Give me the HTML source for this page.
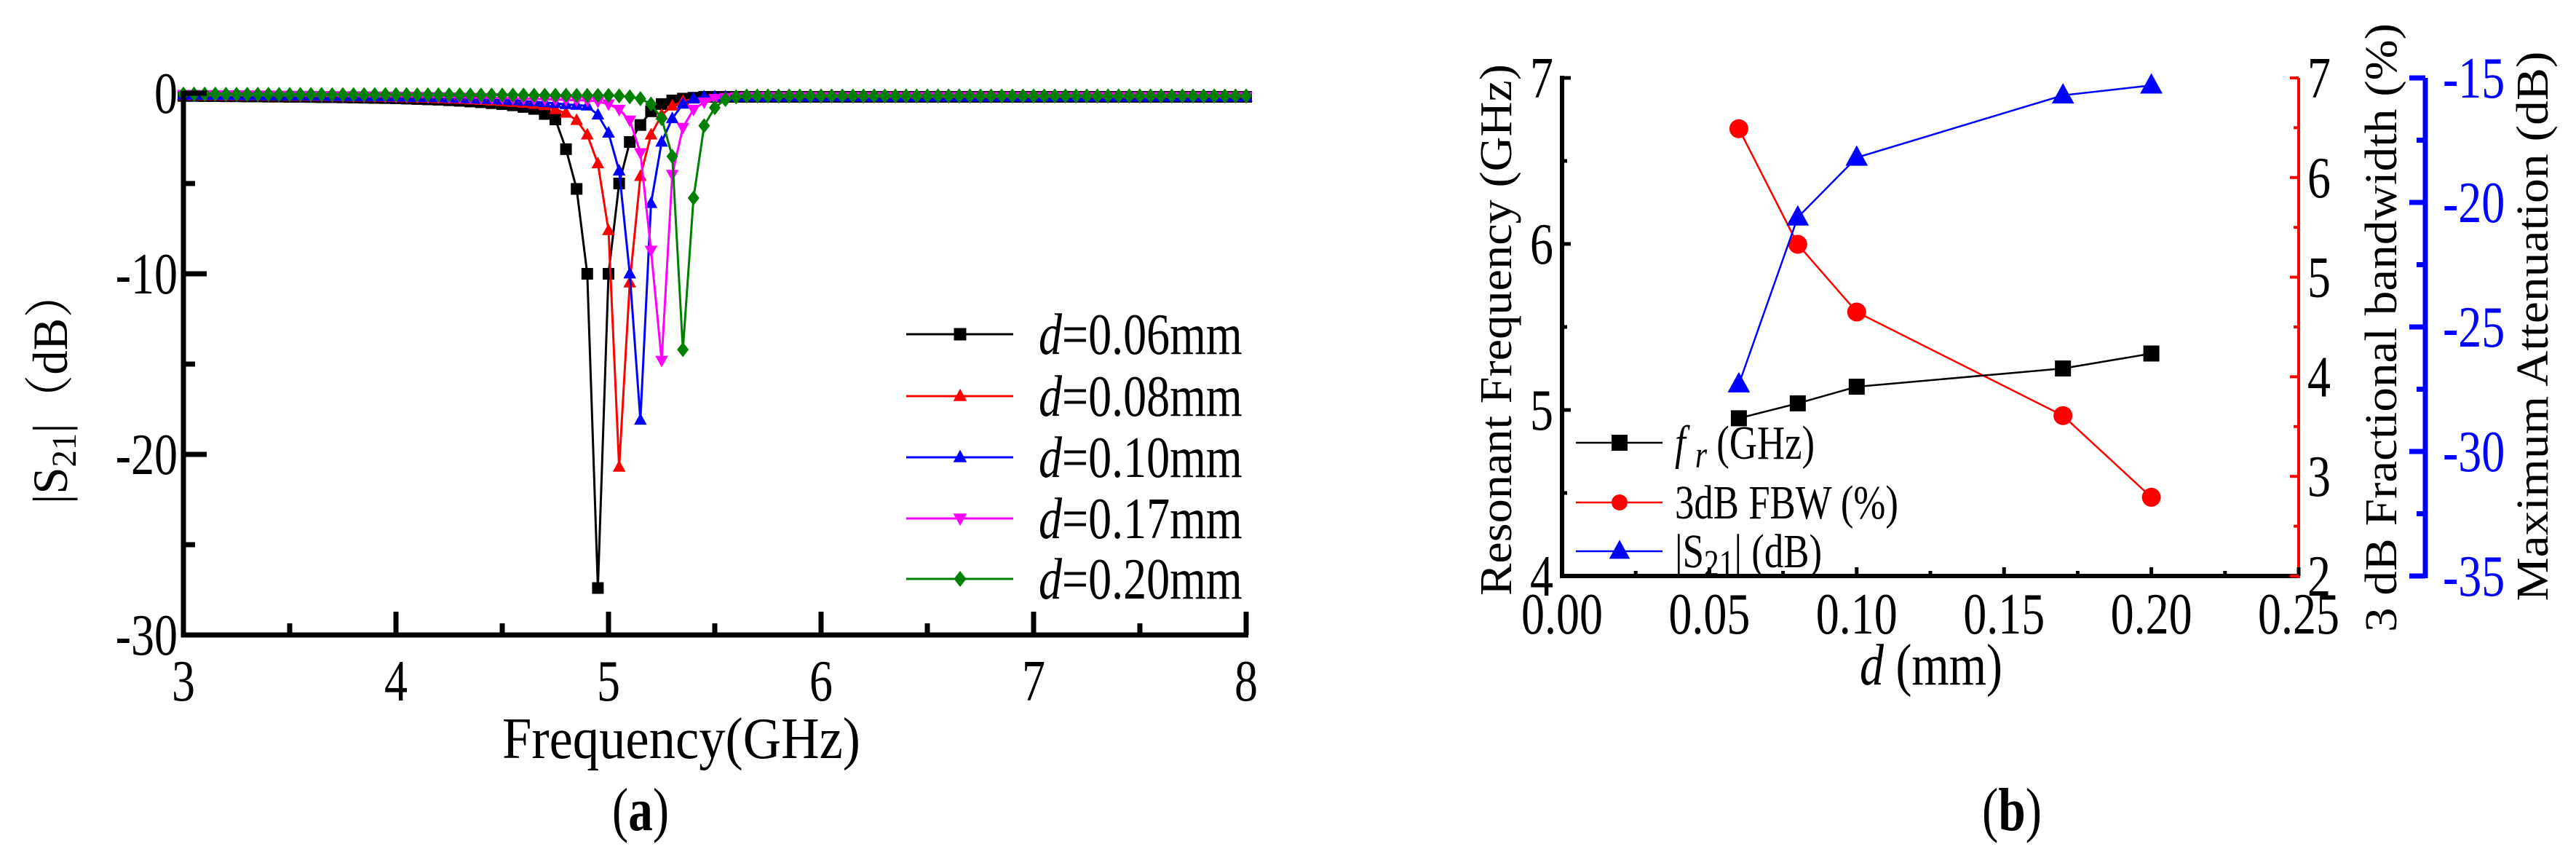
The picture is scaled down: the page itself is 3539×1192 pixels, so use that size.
<!DOCTYPE html>
<html><head><meta charset="utf-8"><style>
html,body{margin:0;padding:0;background:#fff;}
svg{display:block;font-family:"Liberation Serif","Noto Serif CJK SC",serif;}
</style></head><body>
<svg id="fig" width="3539" height="1192" viewBox="0 0 3539 1192" xmlns="http://www.w3.org/2000/svg"></svg>
<script>
// ---------- Chart (a) data ----------
const freqStart = 3, freqStep = 0.05, freqCount = 101;
const aLabels = ["d=0.06mm","d=0.08mm","d=0.10mm","d=0.17mm","d=0.20mm"];
const aXTicks = [3,4,5,6,7,8];
const aYTicks = [0,-10,-20,-30];
const s006 = [-0.15,-0.15,-0.16,-0.16,-0.17,-0.17,-0.18,-0.18,-0.19,-0.19,-0.2,-0.2,-0.21,-0.22,-0.22,-0.23,-0.24,-0.25,-0.26,-0.27,
 -0.28,-0.3,-0.32,-0.34,-0.36,-0.39,-0.42,-0.46,-0.5,-0.55,-0.6,-0.67,-0.76,-0.87,-1.15,-1.45,-3.1,-5.3,-10.0,-27.4,-10.0,-5.0,-2.7,-1.76,-1.0,-0.6,-0.4,-0.3,-0.25,-0.2,
 -0.2,-0.2,-0.2,-0.2,-0.2,-0.2,-0.2,-0.2,-0.2,-0.2,-0.2,-0.2,-0.2,-0.2,-0.2,-0.2,-0.2,-0.2,-0.2,-0.2,-0.2,-0.2,-0.2,-0.2,-0.2,-0.2,-0.2,-0.2,-0.2,-0.2,-0.2,-0.2,-0.2,-0.2,-0.2,-0.2,-0.2,-0.2,-0.2,-0.2,-0.2,-0.2,-0.2,-0.2,-0.2,-0.2,-0.2,-0.2,-0.2,-0.2,-0.2];
const s008 = [-0.12,-0.12,-0.13,-0.13,-0.14,-0.14,-0.15,-0.15,-0.16,-0.16,-0.17,-0.17,-0.18,-0.18,-0.19,-0.19,-0.2,-0.2,-0.21,-0.22,
 -0.23,-0.24,-0.25,-0.27,-0.29,-0.31,-0.33,-0.36,-0.39,-0.42,-0.46,-0.5,-0.55,-0.61,-0.68,-0.9,-1.1,-1.5,-2.3,-3.9,-7.6,-20.7,-10.5,-4.6,-2.3,-1.2,-0.7,-0.45,-0.3,-0.25,
 -0.22,-0.2,-0.2,-0.2,-0.2,-0.2,-0.2,-0.2,-0.2,-0.2,-0.2,-0.2,-0.2,-0.2,-0.2,-0.2,-0.2,-0.2,-0.2,-0.2,-0.2,-0.2,-0.2,-0.2,-0.2,-0.2,-0.2,-0.2,-0.2,-0.2,-0.2,-0.2,-0.2,-0.2,-0.2,-0.2,-0.2,-0.2,-0.2,-0.2,-0.2,-0.2,-0.2,-0.2,-0.2,-0.2,-0.2,-0.2,-0.2,-0.2,-0.2];
const s010 = [-0.1,-0.1,-0.11,-0.11,-0.12,-0.12,-0.13,-0.13,-0.14,-0.14,-0.15,-0.15,-0.16,-0.16,-0.17,-0.17,-0.18,-0.18,-0.19,-0.19,
 -0.2,-0.21,-0.22,-0.23,-0.24,-0.26,-0.28,-0.3,-0.32,-0.34,-0.37,-0.4,-0.43,-0.47,-0.51,-0.56,-0.62,-0.66,-0.7,-1.2,-2.2,-4.3,-10.0,-18.1,-6.1,-2.7,-1.4,-0.6,-0.3,-0.2,
 -0.2,-0.2,-0.2,-0.2,-0.2,-0.2,-0.2,-0.2,-0.2,-0.2,-0.2,-0.2,-0.2,-0.2,-0.2,-0.2,-0.2,-0.2,-0.2,-0.2,-0.2,-0.2,-0.2,-0.2,-0.2,-0.2,-0.2,-0.2,-0.2,-0.2,-0.2,-0.2,-0.2,-0.2,-0.2,-0.2,-0.2,-0.2,-0.2,-0.2,-0.2,-0.2,-0.2,-0.2,-0.2,-0.2,-0.2,-0.2,-0.2,-0.2,-0.2];
const s017 = [-0.08,-0.08,-0.09,-0.09,-0.1,-0.1,-0.1,-0.11,-0.11,-0.12,-0.12,-0.13,-0.13,-0.14,-0.14,-0.15,-0.15,-0.16,-0.16,-0.17,
 -0.17,-0.18,-0.19,-0.2,-0.21,-0.22,-0.23,-0.24,-0.25,-0.26,-0.27,-0.28,-0.3,-0.31,-0.33,-0.35,-0.37,-0.39,-0.4,-0.45,-0.6,-0.9,-1.5,-3.3,-8.7,-14.8,-4.5,-1.9,-0.9,-0.5,
 -0.3,-0.25,-0.22,-0.2,-0.2,-0.2,-0.2,-0.2,-0.2,-0.2,-0.2,-0.2,-0.2,-0.2,-0.2,-0.2,-0.2,-0.2,-0.2,-0.2,-0.2,-0.2,-0.2,-0.2,-0.2,-0.2,-0.2,-0.2,-0.2,-0.2,-0.2,-0.2,-0.2,-0.2,-0.2,-0.2,-0.2,-0.2,-0.2,-0.2,-0.2,-0.2,-0.2,-0.2,-0.2,-0.2,-0.2,-0.2,-0.2,-0.2,-0.2];
const s020 = [-0.05,-0.05,-0.05,-0.05,-0.06,-0.06,-0.06,-0.06,-0.06,-0.07,-0.07,-0.07,-0.07,-0.07,-0.08,-0.08,-0.08,-0.08,-0.08,-0.08,
 -0.08,-0.08,-0.09,-0.09,-0.09,-0.09,-0.09,-0.1,-0.1,-0.1,-0.1,-0.1,-0.1,-0.11,-0.11,-0.11,-0.11,-0.12,-0.12,-0.12,-0.12,-0.15,-0.2,-0.3,-0.6,-1.4,-3.5,-14.2,-5.8,-1.8,
 -0.8,-0.35,-0.2,-0.15,-0.15,-0.15,-0.15,-0.15,-0.15,-0.15,-0.15,-0.15,-0.15,-0.15,-0.15,-0.15,-0.15,-0.15,-0.15,-0.15,-0.15,-0.15,-0.15,-0.15,-0.15,-0.15,-0.15,-0.15,-0.15,-0.15,-0.15,-0.15,-0.15,-0.15,-0.15,-0.15,-0.15,-0.15,-0.15,-0.15,-0.15,-0.15,-0.15,-0.15,-0.15,-0.15,-0.15,-0.15,-0.15,-0.15,-0.15];

// ---------- Chart (b) data ----------
const dVals = [0.06,0.08,0.10,0.17,0.20];
const frVals = [4.95,5.04,5.14,5.25,5.34];
const fbwVals = [6.49,5.33,4.65,3.61,2.79];
const s21Vals = [-27.3,-20.6,-18.2,-15.7,-15.3];
const bXTicks = ["0.00","0.05","0.10","0.15","0.20","0.25"];
const bLeftTicks = [4,5,6,7];
const bRedTicks = [2,3,4,5,6,7];
const bBlueTicks = [-35,-30,-25,-20,-15];

const NS = "http://www.w3.org/2000/svg";
const svg = document.getElementById("fig");
function mk(tag, attrs, parent){
  const e = document.createElementNS(NS, tag);
  for (const k in attrs) e.setAttribute(k, attrs[k]);
  (parent||svg).appendChild(e);
  return e;
}
function txt(x, y, str, size, anchor, rot, fill, italic){
  const g = mk("g", {transform:`translate(${x},${y}) rotate(${rot||0}) scale(0.8,1)`});
  const t = mk("text", {x:0, y:0, "font-size":size, "text-anchor":anchor||"start", fill:fill||"#000"}, g);
  if (italic) t.setAttribute("font-style","italic");
  t.textContent = str;
  return g;
}
// title with fixed length; rotated titles have glyph height compressed
function title(x, y, html, size, len, rot, sy){
  const g = mk("g", {transform:`translate(${x},${y}) rotate(${rot||0}) scale(1,${sy||1})`});
  const t = mk("text", {x:-len/2, y:0, "font-size":size, textLength:len, lengthAdjust:"spacingAndGlyphs"}, g);
  t.innerHTML = html;
  return g;
}
function marker(type, cx, cy, s, color, parent){
  let e;
  if (type==="square") e = mk("rect",{x:cx-s/2,y:cy-s/2,width:s,height:s,fill:color},parent);
  else if (type==="circle") e = mk("circle",{cx:cx,cy:cy,r:s/2,fill:color},parent);
  else if (type==="up") e = mk("polygon",{points:`${cx},${cy-s*0.6} ${cx-s*0.55},${cy+s*0.4} ${cx+s*0.55},${cy+s*0.4}`,fill:color},parent);
  else if (type==="down") e = mk("polygon",{points:`${cx},${cy+s*0.6} ${cx-s*0.55},${cy-s*0.4} ${cx+s*0.55},${cy-s*0.4}`,fill:color},parent);
  else e = mk("polygon",{points:`${cx},${cy-s*0.65} ${cx+s*0.5},${cy} ${cx},${cy+s*0.65} ${cx-s*0.5},${cy}`,fill:color},parent);
  return e;
}

// ================= Chart (a) =================
const aX0=252, aX1=1712, aYtop=128, aYbot=872;
const ax = f => aX0 + (f-3)/(8-3)*(aX1-aX0);
const ay = v => aYtop + (0-v)/30*(aYbot-aYtop);
const aSeries = [s006,s008,s010,s017,s020];
const aColors = ["#000","#f00","#00f","#f0f","#008000"];
const aMarkers = ["square","up","up","down","diamond"];

const plotA = mk("g",{});


aSeries.forEach((vals, si) => {
  const g = mk("g",{},plotA);
  
  
  let pts = vals.map((v,i)=> ax(freqStart+i*freqStep).toFixed(1)+","+ay(v).toFixed(1)).join(" ");
  const line = mk("polyline",{points:pts,fill:"none",stroke:aColors[si],"stroke-width":3},g);
  
  
  vals.forEach((v,i)=>{
    const m = marker(aMarkers[si], ax(freqStart+i*freqStep), ay(v), 16, aColors[si], g);
    
    
  });
});
// axes a
const axesA = mk("g",{stroke:"#000","stroke-width":7,fill:"none"});


mk("line",{x1:aX0,y1:aYtop-3,x2:aX0,y2:aYbot+3},axesA);
mk("line",{x1:aX0-3,y1:aYbot,x2:aX1+3,y2:aYbot},axesA);
for (let f=3; f<=8.001; f+=0.5){
  const major = Math.abs(f-Math.round(f))<0.01;
  mk("line",{x1:ax(f),y1:aYbot,x2:ax(f),y2:aYbot-(major?32:16)},axesA);
}
for (let v=0; v>=-30; v-=5){
  const major = v%10===0;
  mk("line",{x1:aX0,y1:ay(v),x2:aX0+(major?32:16),y2:ay(v)},axesA);
}
aXTicks.forEach(t=>{
  const g = txt(ax(t), 962, String(t), 80, "middle");
  
  
});
aYTicks.forEach(t=>{
  const g = txt(244, ay(t)+27, String(t), 80, "end");
  
  
});
{
  let g = title(936, 1041, "Frequency(GHz)", 80, 492, 0, 1);
  
  
  g = title(92, 531, '|S<tspan font-size="56" dy="14">21</tspan><tspan dy="-14">|（dB）</tspan>', 80, 322, -90, 0.85);
  
  
  const pa = txt(880, 1140, "(a)", 84, "middle");
  
  
  pa.firstChild.innerHTML = '(<tspan font-weight="bold">a</tspan>)';
}
// legend a
const legRows = [459,544,628,712,795];
aLabels.forEach((lab,i)=>{
  const g = mk("g",{});
  
  
  mk("line",{x1:1245,y1:legRows[i],x2:1392,y2:legRows[i],stroke:aColors[i],"stroke-width":3},g);
  marker(aMarkers[i],1319,legRows[i],17,aColors[i],g);
  const tg = mk("g",{transform:`translate(1427,${legRows[i]+27}) scale(0.8,1)`},g);
  const t = mk("text",{x:0,y:0,"font-size":80},tg);
  t.innerHTML = '<tspan font-style="italic">d</tspan>' + lab.slice(1);
});

// ================= Chart (b) =================
const bX0=2146, bX1=3158, bYtop=107, bYbot=791, bBlueX=3332;
const bx = d => bX0 + d/0.25*(bX1-bX0);
const byL = v => bYbot - (v-4)/3*(bYbot-bYtop);
const byR = v => bYbot - (v-2)/5*(bYbot-bYtop);
const byB = v => bYbot - (v+35)/20*(bYbot-bYtop);

const axesB = mk("g",{fill:"none"});


mk("line",{x1:bX0,y1:bYtop-3,x2:bX0,y2:bYbot+3,stroke:"#000","stroke-width":6},axesB);
mk("line",{x1:bX0-3,y1:bYbot,x2:bX1,y2:bYbot,stroke:"#000","stroke-width":6},axesB);
mk("line",{x1:bX1,y1:bYtop,x2:bX1,y2:bYbot+3,stroke:"#f00","stroke-width":4},axesB);
mk("line",{x1:bBlueX,y1:bYtop,x2:bBlueX,y2:bYbot+3,stroke:"#00f","stroke-width":7},axesB);
for (let d=0; d<=0.2501; d+=0.025){
  const major = Math.abs(d/0.05-Math.round(d/0.05))<0.01;
  mk("line",{x1:bx(d),y1:bYbot,x2:bx(d),y2:bYbot-(major?12:7),stroke:"#000","stroke-width":5},axesB);
}
for (let v=4; v<=7.001; v+=0.5){
  mk("line",{x1:bX0,y1:byL(v),x2:bX0+(Math.abs(v-Math.round(v))<0.01?12:7),y2:byL(v),stroke:"#000","stroke-width":5},axesB);
}
for (let v=2; v<=7.001; v+=0.5){
  mk("line",{x1:bX1,y1:byR(v),x2:bX1-(Math.abs(v-Math.round(v))<0.01?12:7),y2:byR(v),stroke:"#f00","stroke-width":4},axesB);
}
for (let v=-35; v<=-14.99; v+=2.5){
  mk("line",{x1:bBlueX,y1:byB(v),x2:bBlueX-(Math.abs(v/5-Math.round(v/5))<0.01?22:12),y2:byB(v),stroke:"#00f","stroke-width":7},axesB);
}
bXTicks.forEach(t=>{
  const g = txt(bx(parseFloat(t)), 870, t, 80, "middle");
  
  
});
bLeftTicks.forEach(t=>{
  const g = txt(2134, byL(t)+27, String(t), 80, "end");
  
  
});
bRedTicks.forEach(t=>{
  const g = txt(3170, byR(t)+27, String(t), 80, "start");
  
  
});
bBlueTicks.forEach(t=>{
  const g = txt(3356, byB(t)+27, String(t), 80, "start", 0, "#00f");
  
  
});
{
  let g = title(2076, 453, "Resonant Frequency (GHz)", 78, 730, -90, 0.8);
  
  
  g = title(3292, 450, "3 dB Fractional bandwidth (%)", 78, 836, -90, 0.8);
  
  
  g = title(3500, 448, "Maximum Attenuation (dB)", 78, 755, -90, 0.8);
  
  
  g = title(2653, 940, '<tspan font-style="italic">d</tspan> (mm)', 80, 196, 0, 1);
  
  
  g = txt(2764, 1140, "", 84, "middle");
  
  
  g.firstChild.innerHTML = '(<tspan font-weight="bold">b</tspan>)';
}
// series b
function seriesB(vals, yfn, color, mtype, size, name){
  const g = mk("g",{});
  
  
  const pts = vals.map((v,i)=>bx(dVals[i]).toFixed(1)+","+yfn(v).toFixed(1)).join(" ");
  mk("polyline",{points:pts,fill:"none",stroke:color,"stroke-width":2.5},g);
  vals.forEach((v,i)=>{
    const m = marker(mtype, bx(dVals[i]), yfn(v), size, color, g);
    
    
  });
}
seriesB(fbwVals, byR, "#f00", "circle", 26, "series-fbw");
seriesB(s21Vals, byB, "#00f", "up", 28, "series-s21");
seriesB(frVals, byL, "#000", "square", 22, "series-fr");
// legend b
const bLegRows = [608,690,757];
const bLegColors = ["#000","#f00","#00f"];
const bLegMarkers = ["square","circle","up"];
const bLegText = ['<tspan font-style="italic">f</tspan> <tspan font-style="italic" font-size="52" dy="12">r</tspan><tspan dy="-12"> (GHz)</tspan>','3dB FBW (%)','|S<tspan font-size="52" dy="12">21</tspan><tspan dy="-12">| (dB)</tspan>'];
bLegRows.forEach((y,i)=>{
  const g = mk("g",{});
  
  
  mk("line",{x1:2165,y1:y,x2:2284,y2:y,stroke:bLegColors[i],"stroke-width":2.5},g);
  marker(bLegMarkers[i],2225,y,i===2?26:22,bLegColors[i],g);
  const tg = mk("g",{transform:`translate(2301,${y+22}) scale(0.8,1)`},g);
  const t = mk("text",{x:0,y:0,"font-size":66},tg);
  t.innerHTML = bLegText[i];
});
</script>
</body></html>
